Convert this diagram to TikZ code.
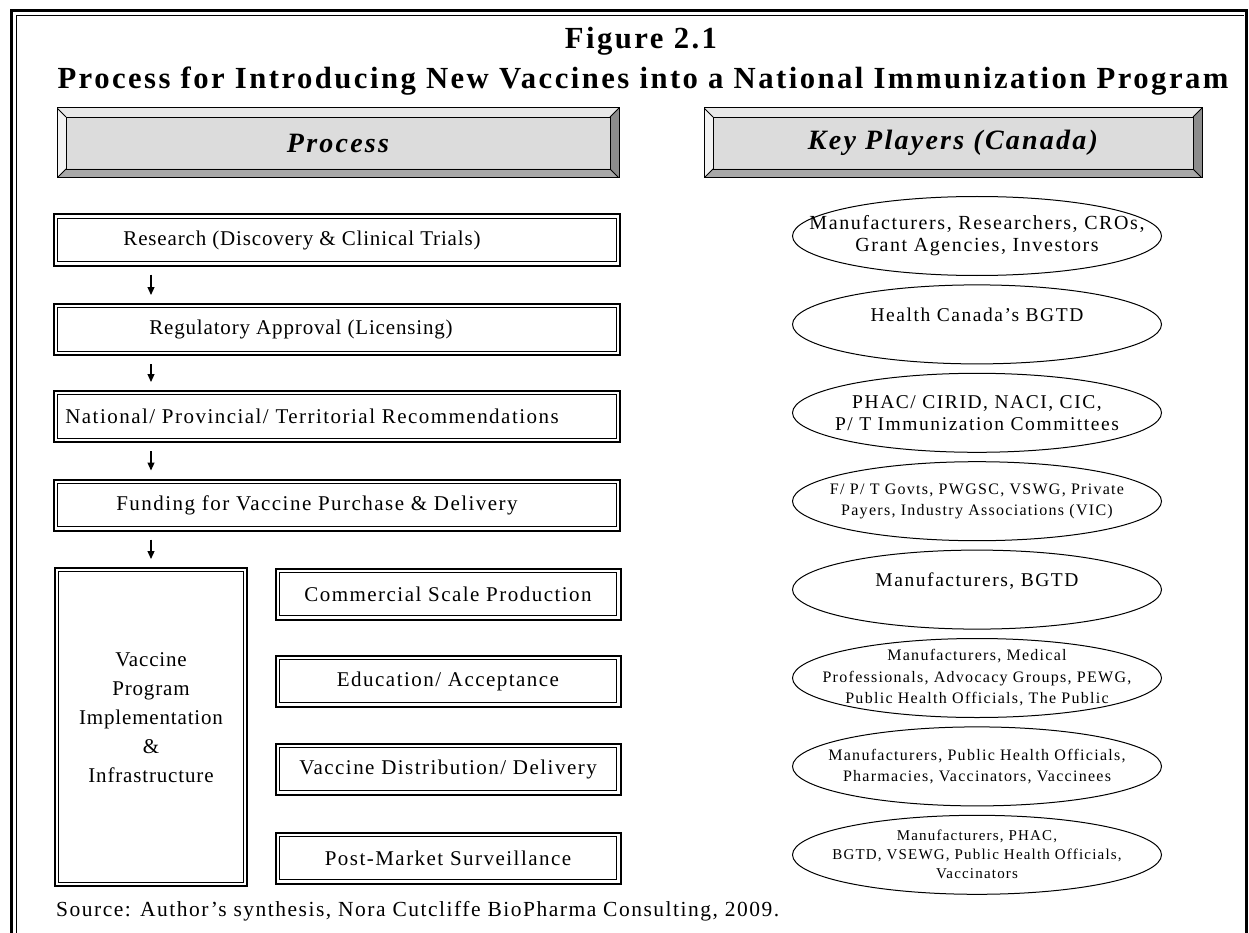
\documentclass[tikz,border=0pt]{standalone}
\usepackage{fontspec}
\setmainfont{Liberation Serif}
\newfontfamily\titlefont[LetterSpace=8]{Liberation Serif}
\newfontfamily\bodyfont[LetterSpace=4]{Liberation Serif}
\newfontfamily\widefont[LetterSpace=7]{Liberation Serif}
\newfontfamily\ellfont[LetterSpace=8]{Liberation Serif}
\usetikzlibrary{shapes.geometric,arrows.meta}
\definecolor{hdrmid}{HTML}{DCDCDC}
\definecolor{bvtop}{HTML}{E8E8E8}
\definecolor{bvleft}{HTML}{F2F2F2}
\definecolor{bvbot}{HTML}{A8A8A8}
\definecolor{bvright}{HTML}{8C8C8C}
\tikzset{
  hdr/.style={draw=black, line width=1pt, fill=hdrmid, minimum height=70pt, inner sep=0pt,
    font=\titlefont\bfseries\itshape\fontsize{28}{32}\selectfont,
    path picture={
      \fill[bvtop] (path picture bounding box.north west) -- (path picture bounding box.north east)
        -- ([shift={(-9pt,-9pt)}]path picture bounding box.north east)
        -- ([shift={(9pt,-9pt)}]path picture bounding box.north west) -- cycle;
      \fill[bvbot] (path picture bounding box.south west) -- (path picture bounding box.south east)
        -- ([shift={(-9pt,9pt)}]path picture bounding box.south east)
        -- ([shift={(9pt,9pt)}]path picture bounding box.south west) -- cycle;
      \fill[bvleft] (path picture bounding box.north west)
        -- ([shift={(9pt,-9pt)}]path picture bounding box.north west)
        -- ([shift={(9pt,9pt)}]path picture bounding box.south west)
        -- (path picture bounding box.south west) -- cycle;
      \fill[bvright] (path picture bounding box.north east)
        -- ([shift={(-9pt,-9pt)}]path picture bounding box.north east)
        -- ([shift={(-9pt,9pt)}]path picture bounding box.south east)
        -- (path picture bounding box.south east) -- cycle;
      \draw[line width=0.8pt] ([shift={(9pt,-9pt)}]path picture bounding box.north west)
        rectangle ([shift={(-9pt,9pt)}]path picture bounding box.south east);
      \draw[line width=0.8pt] (path picture bounding box.north west) -- ++(9pt,-9pt);
      \draw[line width=0.8pt] (path picture bounding box.north east) -- ++(-9pt,-9pt);
      \draw[line width=0.8pt] (path picture bounding box.south west) -- ++(9pt,9pt);
      \draw[line width=0.8pt] (path picture bounding box.south east) -- ++(-9pt,9pt);
    }},
  pbox/.style={draw=black, line width=2pt, inner sep=0pt, minimum height=51pt, align=center,
    font=\bodyfont\fontsize{21}{29}\selectfont,
    path picture={
      \draw[line width=0.9pt] ([shift={(3.6pt,-3.6pt)}]path picture bounding box.north west)
        rectangle ([shift={(-3.6pt,3.6pt)}]path picture bounding box.south east);
    }},
  ell/.style={ellipse, draw=black, line width=1pt, minimum width=369pt, minimum height=79pt,
    inner xsep=-90pt, inner ysep=-30pt, align=center},
  efa/.style={font=\ellfont\fontsize{20}{22}\selectfont},
  efb/.style={font=\ellfont\fontsize{19.5}{22}\selectfont},
  efc/.style={font=\ellfont\fontsize{16}{21.5}\selectfont},
  efd/.style={font=\ellfont\fontsize{15}{19}\selectfont},
  arr/.style={line width=1.2pt, -{Triangle[length=8pt,width=7pt]}, shorten <=8pt, shorten >=8pt},
  ttl/.style={font=\titlefont\bfseries\fontsize{30.7}{34}\selectfont, inner sep=0pt}
}
\begin{document}
\begin{tikzpicture}[x=1pt,y=-1pt]
\useasboundingbox (0,0) rectangle (1249,933);
% frame
\draw[line width=3pt] (11.5,933) -- (11.5,10.5) -- (1246,10.5) -- (1246,933);
\draw[line width=1pt] (16.5,933) -- (16.5,15.5) -- (1244,15.5);
% titles
\node[ttl] (t1) at (641,41) {Figure 2.1};
\node[ttl] (t2) at (643,81) {Process for Introducing New Vaccines into a National Immunization Program};
% headers
\node[hdr, minimum width=562pt] (hp) at (338,143) {Process};
\node[hdr, minimum width=498pt] (hk) at (953,143) {Key Players (Canada)};
% process boxes
\node[pbox, minimum width=566pt] (r1) at (337,240) {\hspace*{-70pt}Research (Discovery \& Clinical Trials)};
\node[pbox, minimum width=566pt] (r2) at (337,329.5) {\hspace*{-72pt}Regulatory Approval (Licensing)};
\node[pbox, minimum width=566pt] (r3) at (337,416.5) {\widefont\hspace*{-50pt}National/ Provincial/ Territorial Recommendations};
\node[pbox, minimum width=566pt] (r4) at (337,505) {\widefont\hspace*{-40pt}Funding for Vaccine Purchase \& Delivery};
\node[pbox, minimum width=192pt, minimum height=318pt] (vac) at (151,727)
  {Vaccine\\Program\\Implementation\\\&\\Infrastructure\\[-10pt]\mbox{}};
\node[pbox, minimum width=345pt] (s1) at (448,594) {\widefont Commercial Scale Production};
\node[pbox, minimum width=345pt] (s2) at (448,681) {\widefont Education/ Acceptance};
\node[pbox, minimum width=345pt] (s3) at (448,769) {\widefont Vaccine Distribution/ Delivery};
\node[pbox, minimum width=345pt] (s4) at (448,858) {\widefont Post-Market Surveillance};
% arrows
\draw[arr] (r1.south -| vac.north) -- (r2.north -| vac.north);
\draw[arr] (r2.south -| vac.north) -- (r3.north -| vac.north);
\draw[arr] (r3.south -| vac.north) -- (r4.north -| vac.north);
\draw[arr] (r4.south -| vac.north) -- (vac.north);
% key players
\node[ell, efa] (e1) at (977,236) {Manufacturers, Researchers, CROs,\\Grant Agencies, Investors};
\node[ell, efb] (e2) at (977,324.4) {Health Canada’s BGTD\\[-3pt]\mbox{}};
\node[ell, efb] (e3) at (977,412.8) {PHAC/ CIRID, NACI, CIC,\\P/ T Immunization Committees};
\node[ell, efc] (e4) at (977,501.2) {F/ P/ T Govts, PWGSC, VSWG, Private\\Payers, Industry Associations (VIC)};
\node[ell, efb] (e5) at (977,589.6) {Manufacturers, BGTD\\[-3pt]\mbox{}};
\node[ell, efc] (e6) at (977,678) {Manufacturers, Medical\\Professionals, Advocacy Groups, PEWG,\\Public Health Officials, The Public};
\node[ell, efc] (e7) at (977,766.4) {Manufacturers, Public Health Officials,\\Pharmacies, Vaccinators, Vaccinees};
\node[ell, efd] (e8) at (977,854.8) {Manufacturers, PHAC,\\BGTD, VSEWG, Public Health Officials,\\Vaccinators};
% source
\node[anchor=west, inner sep=0pt, font=\widefont\fontsize{21.5}{24}\selectfont] (src) at (56,911)
  {Source: Author’s synthesis, Nora Cutcliffe BioPharma Consulting, 2009.};
\end{tikzpicture}
\end{document}
